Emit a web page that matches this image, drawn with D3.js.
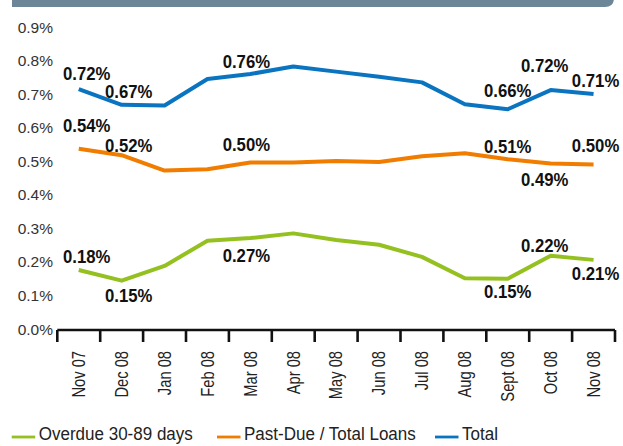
<!DOCTYPE html>
<html>
<head>
<meta charset="utf-8">
<script src="https://cdn.jsdelivr.net/npm/d3@7"></script>
<style>
  body { margin: 0; background: #fff; }
  svg { display: block; }
</style>
</head>
<body>
<svg id="chart" width="623" height="446"></svg>
<script>
const months = ["Nov 07", "Dec 08", "Jan 08", "Feb 08", "Mar 08", "Apr 08", "May 08",
                "Jun 08", "Jul 08", "Aug 08", "Sept 08", "Oct 08", "Nov 08"]
const overdue = [0.176, 0.144, 0.188, 0.263, 0.271, 0.285, 0.265, 0.251, 0.215, 0.151, 0.150, 0.218, 0.206]
const pastDue = [0.537, 0.518, 0.472, 0.476, 0.496, 0.496, 0.501, 0.498, 0.515, 0.524, 0.506, 0.493, 0.490]
const total   = [0.715, 0.668, 0.666, 0.745, 0.760, 0.782, 0.767, 0.752, 0.735, 0.670, 0.655, 0.712, 0.700]
const overdueLabels = ["0.18%", "0.15%", null, null, "0.27%", null, null, null, null, null, "0.15%", "0.22%", "0.21%"]
const pastDueLabels = ["0.54%", "0.52%", null, null, "0.50%", null, null, null, null, null, "0.51%", "0.49%", "0.50%"]
const totalLabels   = ["0.72%", "0.67%", null, null, "0.76%", null, null, null, null, null, "0.66%", "0.72%", "0.71%"]
const yTicks = [0, 0.1, 0.2, 0.3, 0.4, 0.5, 0.6, 0.7, 0.8, 0.9]
const seriesNames = ["Overdue 30-89 days", "Past-Due / Total Loans", "Total"]

const COLORS = { overdue: "#94c11f", pastDue: "#f07d00", total: "#0a74c0" }
const FONT = "'Liberation Sans', Arial, sans-serif"

// label placement: horizontal shift per month, vertical shift per label
const labelDx = [8, 7, 0, 0, -4, 0, 0, 0, 0, 0, 0, -6, 2]
const labelDy = {
    total:   [-16, -14, 0, 0, -13, 0, 0, 0, 0, 0, -19, -25, -14],
    pastDue: [-24, -10, 0, 0, -18, 0, 0, 0, 0, 0, -13, 16, -19],
    overdue: [-14, 14, 0, 0, 17, 0, 0, 0, 0, 0, 12, -11, 13]
}

const svg = d3.select("#chart")

const x = d3.scaleBand().domain(months).range([57.3, 615])
const y = d3.scaleLinear().domain([0, 0.9]).range([329, 27])

// header bar
svg.append("path")
    .attr("d", "M12,0 H614 V-2 Q614,7 605,7 H12 Z")
    .attr("fill", "#6c8698")

// y tick labels
svg.append("g")
    .selectAll("text")
    .data(yTicks)
    .join("text")
    .attr("x", 53)
    .attr("y", d => y(d))
    .attr("dy", "0.36em")
    .attr("text-anchor", "end")
    .attr("font-family", FONT)
    .attr("font-size", 15.5)
    .attr("fill", "#333")
    .text(d => d.toFixed(1) + "%")

// x axis
const xAxis = svg.append("g").attr("transform", "translate(0,330)")
xAxis.append("line")
    .attr("x1", 57.3).attr("x2", 615)
    .attr("stroke", "#111").attr("stroke-width", 2.6)
xAxis.selectAll(".tick")
    .data(months.map(m => x(m)).concat([x.range()[1]]))
    .join("line")
    .attr("class", "tick")
    .attr("x1", d => d).attr("x2", d => d)
    .attr("y1", 0).attr("y2", 12)
    .attr("stroke", "#111").attr("stroke-width", 2.6)

svg.append("g")
    .selectAll("text")
    .data(months)
    .join("text")
    .attr("transform", d => `translate(${x(d) + x.bandwidth() / 2},351) rotate(-90) scale(0.84,1)`)
    .attr("dy", "0.36em")
    .attr("text-anchor", "end")
    .attr("font-family", FONT)
    .attr("font-size", 17.5)
    .attr("fill", "#222")
    .text(d => d)

const cx = (d, i) => x(months[i]) + x.bandwidth() / 2
const line = d3.line().x(cx).y(d => y(d))

const series = [
    { key: "overdue", values: overdue, labels: overdueLabels },
    { key: "pastDue", values: pastDue, labels: pastDueLabels },
    { key: "total", values: total, labels: totalLabels }
]

series.forEach(s => {
    svg.append("path")
        .datum(s.values)
        .attr("fill", "none")
        .attr("stroke", COLORS[s.key])
        .attr("stroke-width", 4)
        .attr("stroke-linejoin", "round")
        .attr("d", line)
})

series.forEach(s => {
    svg.append("g")
        .selectAll("text")
        .data(s.values.map((v, i) => ({ v, i, t: s.labels[i] })).filter(d => d.t))
        .join("text")
        .attr("transform", d => `translate(${cx(d.v, d.i) + labelDx[d.i]},${y(d.v) + labelDy[s.key][d.i]}) scale(0.88,1)`)
        .attr("dy", "0.36em")
        .attr("text-anchor", "middle")
        .attr("font-family", FONT)
        .attr("font-weight", "bold")
        .attr("font-size", 19)
        .attr("fill", "#111")
        .text(d => d.t)
})

// legend
const legendX = [11.7, 217, 435]
const legend = svg.append("g")
    .selectAll("g")
    .data(series)
    .join("g")
    .attr("transform", (d, i) => `translate(${legendX[i]},437)`)
legend.append("line")
    .attr("x1", 0).attr("x2", 23.5)
    .attr("stroke", d => COLORS[d.key])
    .attr("stroke-width", 2.8)
legend.append("text")
    .attr("transform", "translate(27,2.5) scale(0.92,1)")
    .attr("font-family", FONT)
    .attr("font-size", 18.5)
    .attr("fill", "#222")
    .text((d, i) => seriesNames[i])
</script>
</body>
</html>
